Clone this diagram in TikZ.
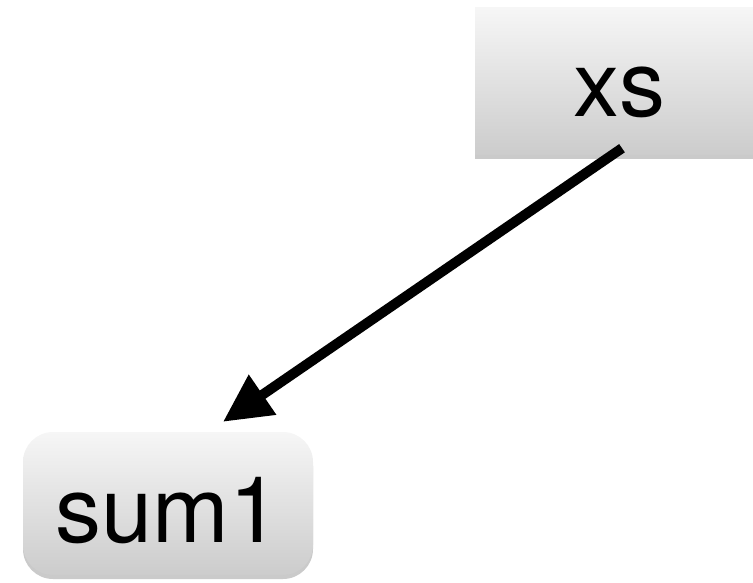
\documentclass[tikz,border=0pt]{standalone}
\usepackage{fontspec}
\setmainfont{TeX Gyre Heros}
\usetikzlibrary{arrows.meta,shadows,calc}
\definecolor{boxtop}{HTML}{F6F6F6}
\definecolor{boxbot}{HTML}{CCCCCC}
\tikzset{
  gbox/.style={top color=boxtop, bottom color=boxbot, draw=none,
    drop shadow={opacity=0.35, shadow xshift=0pt, shadow yshift=-4pt, fill=black!60},
    inner sep=0pt, font=\fontsize{92}{100}\selectfont},
  arr/.style={line width=10pt, -{Triangle[length=48pt,width=46pt]}}
}
\begin{document}
\begin{tikzpicture}[x=1pt,y=-1pt]
\useasboundingbox (0,0) rectangle (753,583);
\node[gbox, minimum width=288pt, minimum height=147pt, text height=70pt, text depth=0pt] (xs) at (619,81.5) {xs};
\node[gbox, rounded corners=30pt, minimum width=290pt, minimum height=143pt, text height=77pt, text depth=0pt] (sum) at (168,503.5) {sum1};
\draw[arr] ([xshift=3pt,yshift=7pt]xs.south) -- ([xshift=55pt,yshift=10pt]sum.north);
\end{tikzpicture}
\end{document}
